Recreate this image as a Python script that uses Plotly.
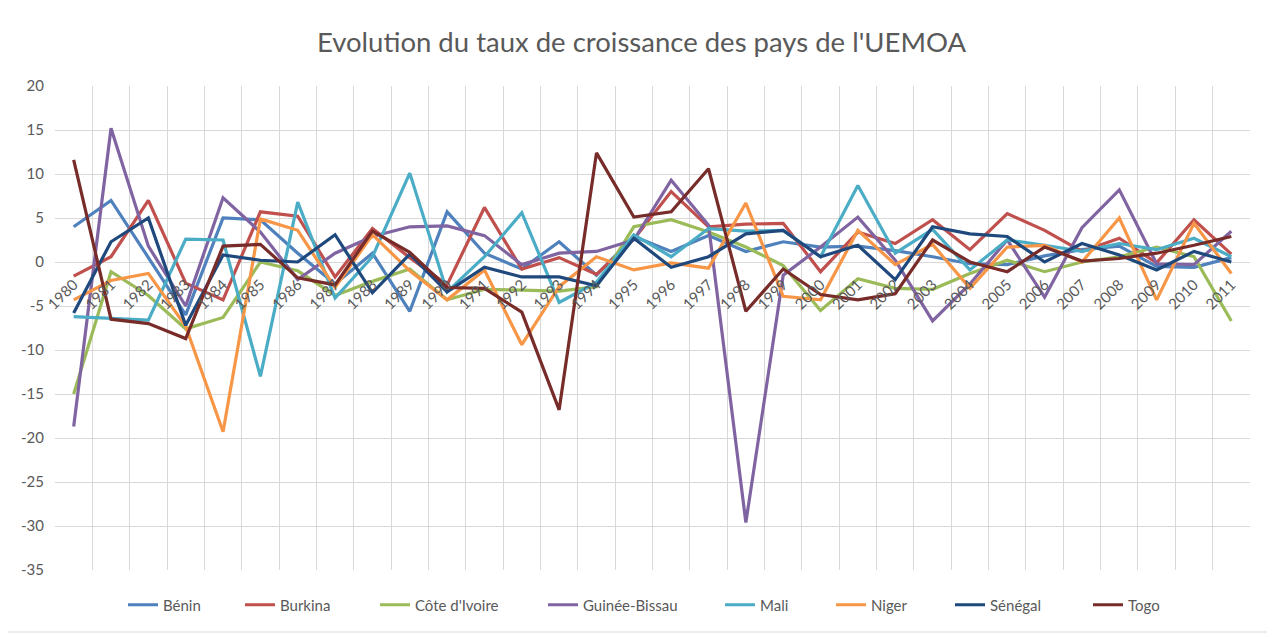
import plotly.graph_objects as go

years = list(range(1980, 2012))
year_labels = [str(y) for y in years]

benin = [4.0, 7.0, 0.5, -6.0, 5.0, 4.8, 1.0, -2.5, 1.0, -5.6, 5.7, 1.0, -0.8, 2.3, -1.5, 2.9,
         1.2, 3.0, 1.2, 2.3, 1.7, 1.8, 1.3, 0.6, -0.2, -0.3, 0.7, 1.4, 1.8, -0.5, -0.6, 0.5]
burkina = [-1.6, 0.6, 7.0, -2.4, -4.3, 5.7, 5.2, -1.7, 3.8, 0.5, -2.6, 6.2, -0.8, 0.5, -1.4, 2.6,
           8.0, 4.0, 4.3, 4.4, -1.1, 3.4, 2.1, 4.8, 1.4, 5.5, 3.6, 1.2, 2.7, -0.1, 4.8, 0.9]
cote_ivoire = [-15.0, -1.1, -3.8, -7.6, -6.3, 0.0, -1.0, -3.8, -2.2, -0.8, -4.3, -3.1, -3.2, -3.3, -2.8, 4.0,
               4.8, 3.4, 1.7, -0.4, -5.5, -1.9, -3.0, -3.1, -1.3, 0.2, -1.1, 0.0, 0.6, 1.7, 0.6, -6.7]
guinee_bissau = [-18.7, 15.2, 1.8, -5.0, 7.3, 3.4, -2.0, 1.0, 2.9, 4.0, 4.1, 3.0, -0.3, 1.0, 1.2, 2.5,
                 9.3, 4.2, -29.6, -1.5, 1.7, 5.1, 0.2, -6.7, -2.5, 2.5, -4.0, 3.9, 8.2, -0.2, -0.3, 3.5]
mali = [-6.2, -6.4, -6.6, 2.6, 2.5, -13.0, 6.8, -4.1, 0.6, 10.1, -3.4, 0.6, 5.6, -4.6, -2.3, 3.1,
        0.6, 3.8, 3.5, 3.6, 0.6, 8.7, 1.0, 3.7, -0.9, 2.5, 1.9, 1.2, 2.1, 1.4, 2.7, 0.6]
niger = [-4.3, -2.1, -1.3, -7.3, -19.3, 4.9, 3.6, -2.9, 3.1, -1.0, -4.3, -0.9, -9.4, -2.8, 0.6, -0.9,
         -0.1, -0.7, 6.7, -3.9, -4.3, 3.6, -0.3, 2.0, -3.0, 1.7, 1.9, 0.0, 5.0, -4.3, 4.4, -1.3]
senegal = [-5.8, 2.3, 5.0, -7.2, 0.8, 0.2, 0.0, 3.1, -3.5, 0.9, -3.4, -0.6, -1.7, -1.7, -2.7, 2.7,
           -0.6, 0.6, 3.2, 3.6, 0.6, 1.9, -2.0, 4.0, 3.2, 2.9, 0.0, 2.1, 0.8, -0.9, 1.2, 0.0]
togo = [11.6, -6.5, -7.0, -8.7, 1.8, 2.0, -1.8, -2.6, 3.5, 1.1, -2.9, -3.0, -5.7, -16.8, 12.4, 5.1,
        5.7, 10.6, -5.6, -0.8, -3.7, -4.3, -3.6, 2.5, 0.0, -1.1, 1.7, 0.1, 0.4, 1.0, 1.9, 2.9]

series = [
    ("Bénin", benin, "#4F81BD"),
    ("Burkina", burkina, "#C0504D"),
    ("Côte d'Ivoire", cote_ivoire, "#9BBB59"),
    ("Guinée-Bissau", guinee_bissau, "#8064A2"),
    ("Mali", mali, "#4BACC6"),
    ("Niger", niger, "#F79646"),
    ("Sénégal", senegal, "#1F497D"),
    ("Togo", togo, "#772C2A"),
]

y_min, y_max = -35, 20
y_ticks = list(range(y_min, y_max + 1, 5))
y_tick_labels = [str(v) for v in y_ticks]
title_text = "Evolution du taux de croissance des pays de l'UEMOA"

FONT = "Lato"
GREY = "#595959"
GRID = "#D9D9D9"

# page offset (browser body margin)
OFF = 8
W, H = 1275 - OFF, 637 - OFF
ml, mt = 55 - OFF, 86 - OFF
mr = (1275 - 1250)
mb = 637 - 570
pw, ph = W - ml - mr, H - mt - mb

# legend entry start positions (page pixels)
legend_x_px = [123, 240, 375, 543, 720, 831, 950, 1088]
legend_y_px = 605

fig = go.Figure()
layout_legends = {}
for i, (name, vals, color) in enumerate(series):
    key = "legend" if i == 0 else f"legend{i + 1}"
    fig.add_trace(go.Scatter(x=years, y=vals, name=name, mode="lines", legend=key,
                             line=dict(color=color, width=3.2)))
    layout_legends[key] = dict(
        orientation="h", x=(legend_x_px[i] - OFF - ml) / pw, xanchor="left",
        y=(H - mb - (legend_y_px - OFF)) / ph, yanchor="middle",
        font=dict(family=FONT, size=15, color=GREY), itemwidth=30,
        bgcolor="rgba(0,0,0,0)", borderwidth=0,
    )

fig.update_layout(
    width=W, height=H,
    margin=dict(l=ml, r=mr, t=mt, b=mb, autoexpand=False),
    paper_bgcolor="white", plot_bgcolor="white",
    font=dict(family=FONT, color=GREY, size=14),
    title=dict(text=title_text, x=0.5, xanchor="center", y=1 - (42 - OFF) / H, yanchor="middle",
               font=dict(family=FONT, size=27.5, color=GREY)),
    xaxis=dict(
        range=[years[0] - 0.5, years[-1] + 0.5],
        tickmode="array", tickvals=years, ticktext=year_labels,
        tickangle=-45, showgrid=False, zeroline=False, showline=False, ticks="",
        anchor="free", position=(0 - y_min) / (y_max - y_min), automargin=False,
        tickfont=dict(family=FONT, size=15, color=GREY), ticklabelstandoff=10,
        minor=dict(tickvals=[y - 0.5 for y in years] + [years[-1] + 0.5],
                   showgrid=True, gridcolor=GRID, gridwidth=1, ticks=""),
    ),
    yaxis=dict(
        range=[y_min, y_max], tickmode="array", tickvals=y_ticks, ticktext=y_tick_labels,
        showgrid=True, gridcolor=GRID, gridwidth=1, zeroline=False, showline=False,
        ticks="", tickfont=dict(family=FONT, size=15, color=GREY), ticklabelstandoff=10,
        automargin=False,
    ),
    showlegend=True,
    **layout_legends,
)

# chart border
fig.add_shape(type="rect", xref="paper", yref="paper",
              x0=(2 - OFF - ml) / pw, x1=(1272 - OFF - ml) / pw,
              y0=(H - mb - (632 - OFF)) / ph, y1=(H - mb - (2 - OFF + 2)) / ph,
              line=dict(color="#D9D9D9", width=1), layer="below")

fig.write_html("out.html")
